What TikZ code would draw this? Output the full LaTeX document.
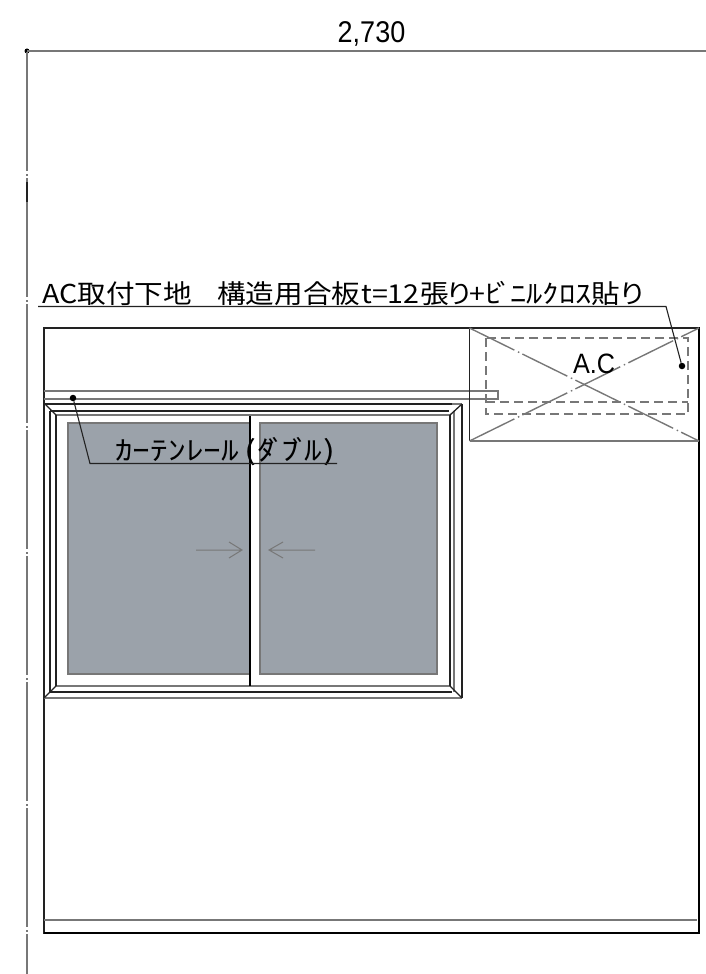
\documentclass[tikz,border=0pt]{standalone}
\usepackage{fontspec}
\setmainfont{Liberation Sans}
\newfontfamily\jpfont{Noto Sans CJK JP}
\definecolor{glass}{HTML}{9BA2AA}
\definecolor{darkl}{HTML}{222222}
\definecolor{midl}{HTML}{777777}
\tikzset{
 heavy/.style={line width=2pt,draw=darkl},
 heavier/.style={line width=2.6pt,draw=black},
 thin1/.style={line width=1.3pt,draw=darkl},
 greyl/.style={line width=1.5pt,draw=midl},
 leader/.style={line width=1.1pt,draw=darkl},
 dotn/.style={circle,fill=black,inner sep=0pt,minimum size=6.5pt},
 lab/.style={inner sep=0pt,text=black},
 cross/.style={line width=1.4pt,draw=midl,dash pattern=on 50pt off 4pt on 1.5pt off 3.5pt},
 hid/.style={line width=1.2pt,draw=midl,dash pattern=on 9pt off 5pt},
 glasspane/.style={fill=glass,draw=midl,line width=1.3pt},
 flow/.style={line width=1pt,draw=midl}
}
\begin{document}
\begin{tikzpicture}[x=1pt,y=-1pt]
\useasboundingbox (0,0) rectangle (706,974);
% dimension lines
\node[dotn,minimum size=5pt] (origin) at (27,51) {};
\coordinate (dimE) at (706,51);
\coordinate (dimS) at (27,974);
\draw[greyl] (origin.center) -- (dimE);
\draw[greyl,dash pattern=on 119pt off 3pt on 2pt off 2pt,dash phase=125pt] (origin.center) -- (dimS);
\draw[line width=1.6pt,draw=darkl] (27,182) -- (27,202);
\node[lab,font=\fontsize{30}{30}\selectfont,xscale=0.9] (dimtext) at (371.5,34) {2,730};
% wall
\draw[heavy] (699,328) -- (44,328) -- (44,933) -- (699,933);
\draw[heavier] (699,327) -- (699,934.3);
\draw[heavier] (44,933) -- (699,933);
\draw[greyl] (44,920) -- (697,920);
% window
\draw[glasspane] (68,423) rectangle (250,674);
\draw[glasspane] (260,423) rectangle (437,674);
\draw[greyl] (56,415) -- (450,415);
\draw[greyl] (56,686) -- (450,686);
\draw[thin1] (56,415) -- (56,686);
\draw[thin1] (450,415) -- (450,686);
\draw[thin1] (50,411) -- (449,411);
\draw[thin1] (50,692) -- (452,692);
\draw[thin1] (50,411) -- (50,692);
\draw[greyl,line width=2.6pt] (454,411) -- (454,692);
\draw[line width=1.7pt,draw=darkl] (44,404) -- (452,404);
\draw[greyl] (452,404) -- (462,404);
\draw[thin1] (462,404) -- (462,698);
\draw[greyl] (44,698) -- (462,698);
\draw[thin1] (44,403) -- (56,415);
\draw[thin1] (450,415) -- (462,404);
\draw[thin1] (44,698) -- (56,686);
\draw[thin1] (450,686) -- (462,698);
\draw[line width=1.1pt,draw=black] (250,416) -- (250,686);
\draw[flow] (196,550) -- (242,550) (229,542) -- (242,550) -- (229,558);
\draw[flow] (315,550) -- (269,550) (283,542) -- (269,550) -- (283,558);
% curtain rail
\draw[greyl] (44,391) -- (498,391) -- (498,399) -- (44,399);
% AC unit
\draw[thin1] (699,328) -- (469.5,328) -- (469.5,441);
\draw[greyl] (469.5,441) -- (699,441);
\draw[cross] (469.5,328) -- (699,441);
\draw[cross] (469.5,441) -- (699,328);
\draw[hid] (486,338) rectangle (688,414);
\draw[hid] (486,402) -- (688,402);
\node[lab,font=\fontsize{28}{28}\selectfont,xscale=0.9] (actext) at (594,364) {A.C};
% labels
\node[lab,anchor=base west,font=\jpfont\fontsize{26}{26}\selectfont,xscale=1.1] (aclabel) at (42,303) {AC取付下地\hspace{23pt}構造用合板\hspace{1pt}t=12\hspace{1pt}張\hspace{-4pt}り\hspace{-4pt}+\hspace{0pt}\scalebox{1.14}[1]{ﾋ\hspace{-4pt}ﾞ\hspace{-2pt}ﾆﾙｸﾛｽ}貼\hspace{-2pt}り};
\coordinate (acund) at (38,306.5);
\coordinate (acelbow) at (666,306.5);
\node[dotn] (acdot) at (682,366) {};
\draw[leader] (acund) -- (acelbow) -- (acdot);
\node[lab,anchor=base west,font=\jpfont\fontsize{27}{27}\selectfont,xscale=1.31] (curtlabel) at (115,460) {ｶｰﾃﾝﾚｰﾙ\hspace{4pt}(\hspace{1pt}ﾀ\hspace{-5pt}ﾞ\hspace{-4pt}ﾌ\hspace{-5pt}ﾞ\hspace{-4pt}ﾙ\hspace{1pt})};
\coordinate (cuund) at (337,463.5);
\coordinate (cuelbow) at (90,463.5);
\node[dotn] (cudot) at (73,398) {};
\draw[leader] (cuund) -- (cuelbow) -- (cudot);
\end{tikzpicture}
\end{document}
